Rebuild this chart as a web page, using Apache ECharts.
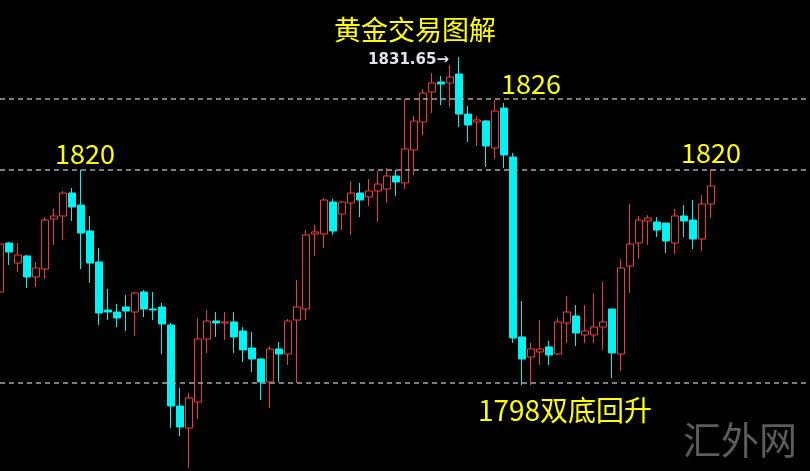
<!DOCTYPE html>
<html>
<head>
<meta charset="utf-8">
<script src="https://cdn.jsdelivr.net/npm/echarts@6/dist/echarts.min.js"></script>
<style>
html,body{margin:0;padding:0;background:#000;}
#c{width:810px;height:471px;}
</style>
</head>
<body>
<div id="c"></div>
<script>
// Candle values (gold price)
const opens = [1807.40,1812.46,1810.39,1811.12,1808.95,1809.77,1814.94,1815.25,1817.62,1816.38,
1813.70,1810.50,1805.54,1805.33,1805.85,1805.33,1807.40,1805.64,1805.85,1803.99,
1795.62,1793.35,1796.03,1802.54,1804.40,1804.20,1804.30,1803.37,1801.61,1800.48,
1798.10,1801.51,1800.99,1804.50,1805.64,1813.39,1813.39,1816.69,1815.45,1816.59,
1817.62,1817.21,1817.83,1818.04,1819.38,1818.66,1822.07,1824.96,1828.06,1829.09,
1828.99,1829.92,1825.78,1824.96,1825.06,1822.27,1826.40,1821.34,1802.75,1800.68,
1801.20,1801.72,1800.99,1804.20,1804.92,1802.96,1802.96,1803.78,1805.64,1800.99,
1810.08,1812.46,1814.73,1814.63,1814.52,1812.46,1815.25,1814.83,1812.87,1816.49];
const closes = [1812.36,1811.53,1811.22,1808.95,1809.88,1814.83,1815.25,1817.62,1816.18,1813.49,
1810.39,1805.23,1805.33,1804.71,1805.43,1807.29,1805.64,1805.54,1804.09,1795.62,
1793.45,1796.45,1802.54,1804.40,1804.20,1804.30,1802.75,1801.41,1800.48,1798.10,
1801.51,1800.99,1804.40,1805.85,1813.29,1813.60,1816.90,1813.70,1816.69,1817.62,
1816.90,1817.83,1818.55,1819.38,1818.76,1822.17,1825.06,1827.95,1828.99,1828.88,
1829.61,1825.78,1824.65,1825.17,1822.48,1826.09,1821.55,1802.65,1800.48,1801.51,
1801.51,1800.89,1804.30,1805.33,1803.16,1803.37,1803.78,1804.30,1801.10,1809.88,
1812.36,1814.83,1815.04,1813.80,1812.67,1815.25,1814.73,1812.87,1816.49,1818.35];
const lows = [1805.85,1810.19,1809.46,1807.81,1807.91,1808.74,1812.25,1812.77,1814.73,1809.77,
1808.33,1803.99,1804.50,1803.78,1803.37,1802.85,1804.81,1804.50,1800.99,1793.35,
1792.52,1789.22,1794.28,1801.10,1802.75,1802.44,1801.10,1800.17,1799.13,1796.24,
1795.41,1798.10,1799.86,1798.00,1804.50,1811.12,1811.94,1813.29,1813.80,1813.29,
1815.14,1816.28,1814.63,1816.59,1817.31,1818.04,1819.48,1823.62,1825.89,1826.71,
1826.51,1824.44,1822.89,1822.48,1820.31,1821.14,1820.21,1802.13,1797.79,1797.79,
1799.86,1799.86,1800.89,1802.13,1801.82,1802.13,1802.13,1801.41,1798.51,1799.24,
1807.29,1810.81,1812.25,1813.08,1811.43,1811.32,1813.08,1811.84,1811.63,1815.04];
const highs = [1812.77,1812.56,1812.46,1811.22,1810.50,1815.14,1815.97,1817.83,1818.14,1820.00,
1815.25,1811.94,1807.71,1806.16,1807.09,1807.40,1807.60,1807.40,1806.26,1804.20,
1797.48,1796.96,1804.71,1805.54,1805.33,1805.33,1805.33,1803.78,1803.27,1800.58,
1801.82,1802.23,1804.61,1808.64,1813.80,1814.32,1817.11,1817.00,1816.80,1818.86,
1818.66,1819.07,1819.90,1820.21,1820.00,1827.33,1825.58,1828.37,1830.02,1829.71,
1830.85,1831.65,1826.61,1825.58,1825.17,1827.23,1826.92,1821.76,1806.47,1802.13,
1804.50,1802.34,1804.71,1806.98,1806.05,1806.05,1807.29,1808.43,1805.64,1810.81,
1816.49,1815.25,1815.35,1815.14,1814.52,1815.97,1816.38,1816.90,1817.42,1820.10];
// Horizontal reference levels (dashed lines)
const levels = [1827.33, 1820, 1798];
// Category slots (80 candles + empty space to the right edge)
const categories = Array.from({length: 91}, (_, i) => 'K' + (i + 1));

const candleData = opens.map((o, i) => [o, closes[i], lows[i], highs[i]]);

const chart = echarts.init(document.getElementById('c'), null, {renderer: 'canvas'});
const yellow = '#ffff00';
const cjk = '"Noto Sans CJK SC", "Noto Sans", sans-serif';
chart.setOption({
  backgroundColor: '#000',
  animation: false,
  grid: {left: 0, right: 0, top: 5.44, bottom: 0.92},
  xAxis: {type: 'category', data: categories, boundaryGap: false, show: false},
  yAxis: {type: 'value', min: 1789, max: 1837, show: false, splitLine: {show: false}},
  series: [{
    type: 'candlestick',
    data: candleData,
    barWidth: 7,
    itemStyle: {
      color: '#000',
      color0: '#00f2f2',
      borderColor: '#f03c3c',
      borderColor0: '#00f2f2',
      borderWidth: 1
    },
    markLine: {
      silent: true,
      symbol: ['none', 'none'],
      label: {show: false},
      lineStyle: {type: [5, 4], color: '#a8a8a8', width: 1.5},
      data: levels.map(v => ({yAxis: v}))
    }
  }],
  graphic: [
    {type: 'text', x: 415, y: 30, style: {text: '黄金交易图解', font: '27px ' + cjk, fill: yellow, textAlign: 'center', textVerticalAlign: 'middle'}},
    {type: 'text', x: 449, y: 60, style: {text: '1831.65→', font: 'bold 15px "DejaVu Sans", sans-serif', fill: '#dfe3ea', textAlign: 'right', textVerticalAlign: 'middle'}},
    {type: 'text', x: 531, y: 84, style: {text: '1826', font: '27px ' + cjk, fill: yellow, textAlign: 'center', textVerticalAlign: 'middle'}},
    {type: 'text', x: 85, y: 154, style: {text: '1820', font: '27px ' + cjk, fill: yellow, textAlign: 'center', textVerticalAlign: 'middle'}},
    {type: 'text', x: 711, y: 153, style: {text: '1820', font: '27px ' + cjk, fill: yellow, textAlign: 'center', textVerticalAlign: 'middle'}},
    {type: 'text', x: 565, y: 410, style: {text: '1798双底回升', font: '28px ' + cjk, fill: yellow, textAlign: 'center', textVerticalAlign: 'middle'}},
    {type: 'text', x: 740, y: 440, style: {text: '汇外网', font: '38px ' + cjk, fill: '#5c5c5c', textAlign: 'center', textVerticalAlign: 'middle'}}
  ]
});
</script>
</body>
</html>
